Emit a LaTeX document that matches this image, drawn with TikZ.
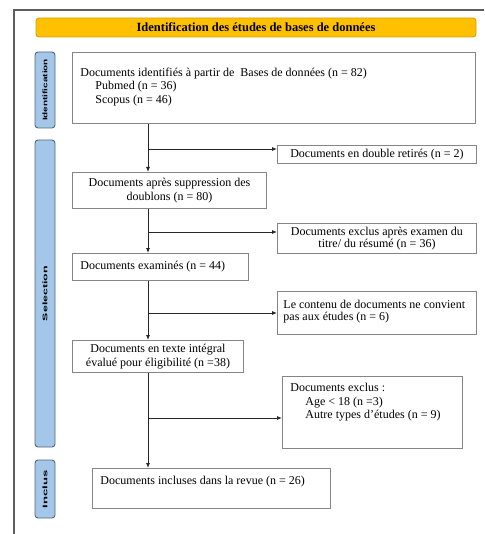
\documentclass[tikz,border=0pt]{standalone}
\usepackage{fontspec}
\setmainfont{Liberation Serif}
\setsansfont{Liberation Sans}
\usepackage{graphicx}
\usetikzlibrary{arrows.meta}

\definecolor{bannerfill}{HTML}{FFC000}
\definecolor{bannerline}{HTML}{D4A20C}
\definecolor{phasefill}{HTML}{A3C6E9}
\definecolor{phaseline}{HTML}{56677A}
\definecolor{boxgray}{HTML}{858585}
\definecolor{framegray}{HTML}{5E5E5E}

\tikzset{
  banner/.style={draw=bannerline, fill=bannerfill, rounded corners=3pt, line width=0.9pt,
    minimum width=440pt, minimum height=19pt, inner sep=0pt, font=\bfseries\fontsize{12.5}{14}\selectfont},
  phase/.style={draw=phaseline, fill=phasefill, rounded corners=3pt, line width=0.9pt,
    minimum height=20pt, inner sep=0pt, rotate=90},
  flowbox/.style={draw=boxgray, line width=0.9pt, inner xsep=8pt, inner ysep=0pt,
    anchor=north west, font=\fontsize{12}{13.5}\selectfont},
  flow/.style={line width=0.8pt, draw=black!85, -{Latex[length=5pt,width=4pt]}},
}

\newcommand{\phasetext}[2]{\resizebox{#1}{4.8pt}{\sffamily\bfseries #2}}
\newcommand{\toptext}[4]{\parbox[c][#1][t]{#2}{\raggedright\vspace*{#3}#4}}

\begin{document}
\begin{tikzpicture}[x=1pt,y=-1pt]
\useasboundingbox (0,0) rectangle (484,534);
\draw[framegray, line width=1.2pt] (484,10) -- (14,10) -- (14,534);

% header and phases
\node[banner] (head) at (256,27.5) {Identification des études de bases de données};
\node[phase, minimum width=76pt] (pident) at (45,90) {\phasetext{62pt}{Identification}};
\node[phase, minimum width=307pt] (psel) at (45,293.5) {\phasetext{55pt}{Selection}};
\node[phase, minimum width=58pt] (pincl) at (45,489) {\phasetext{38pt}{Inclus}};

% boxes
\node[flowbox, minimum height=71pt] (ident) at (72,52)
  {\toptext{40pt}{387pt}{0pt}{Documents identifiés à partir de~ Bases de données (n = 82)\\
   \hspace*{15pt}Pubmed (n = 36)\\
   \hspace*{15pt}Scopus (n = 46)}};
\node[flowbox, minimum width=199pt, minimum height=18pt, align=center] (dup) at (277,145)
  {Documents en double retirés (n = 2)};
\node[flowbox, minimum width=194pt, minimum height=36pt, align=center] (dedup) at (72,172)
  {Documents après suppression des\\ doublons (n = 80)};
\node[flowbox, minimum width=199pt, minimum height=30pt, align=center, font=\fontsize{12}{12}\selectfont] (titre) at (277,223)
  {Documents exclus après examen du\\ titre/ du résumé (n = 36)};
\node[flowbox, minimum height=27pt] (exam) at (72,253)
  {\toptext{12pt}{160pt}{0pt}{Documents examinés (n = 44)}};
\node[flowbox, inner xsep=6pt, minimum width=199pt, minimum height=43pt,
  font=\fontsize{12}{12.5}\selectfont] (contenu) at (277,291)
  {\toptext{26pt}{187pt}{0pt}{Le contenu de documents ne convient\\ pas aux études (n = 6)}};
\node[flowbox, minimum width=171pt, minimum height=32pt, align=center] (integral) at (72,340)
  {Documents en texte intégral\\ évalué pour éligibilité (n =38)};
\node[flowbox] (exclus) at (282,376)
  {\toptext{72pt}{164pt}{7pt}{Documents exclus :\\
   \hspace*{15pt}Age < 18 (n =3)\\
   \hspace*{15pt}Autre types d’études (n = 9)}};
\node[flowbox] (incl) at (92,468)
  {\toptext{40pt}{222pt}{8pt}{Documents incluses dans la revue (n = 26)}};

% spine
\coordinate (s1) at (148,149);
\coordinate (s2) at (148,232);
\coordinate (s3) at (148,313);
\coordinate (s4) at (148,418);

\draw[flow] (ident.south -| s1) -- (dedup.north -| s1);
\draw[flow] (s1) -- (dup.west |- s1);
\draw[flow] (dedup.south -| s2) -- (exam.north -| s2);
\draw[flow] (s2) -- (titre.west |- s2);
\draw[flow] (exam.south -| s3) -- (integral.north -| s3);
\draw[flow] (s3) -- (contenu.west |- s3);
\draw[flow] (integral.south -| s4) -- (incl.north -| s4);
\draw[flow] (s4) -- (exclus.west |- s4);
\end{tikzpicture}
\end{document}
